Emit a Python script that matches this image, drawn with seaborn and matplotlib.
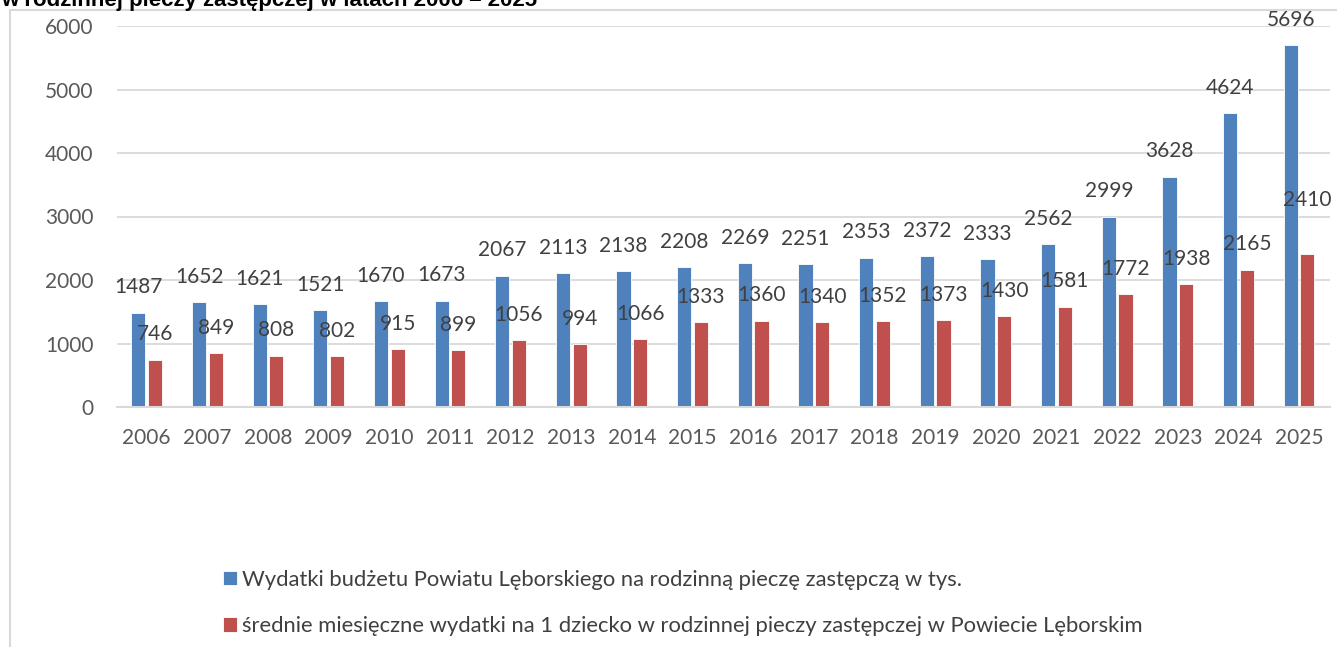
import matplotlib
matplotlib.use("Agg")
import matplotlib.pyplot as plt
from matplotlib.patches import Rectangle
import seaborn as sns
import pandas as pd

years = [str(y) for y in range(2006, 2026)]
budget = [1487, 1652, 1621, 1521, 1670, 1673, 2067, 2113, 2138, 2208,
          2269, 2251, 2353, 2372, 2333, 2562, 2999, 3628, 4624, 5696]
per_child = [746, 849, 808, 802, 915, 899, 1056, 994, 1066, 1333,
             1360, 1340, 1352, 1373, 1430, 1581, 1772, 1938, 2165, 2410]
series_names = [
    "Wydatki budżetu Powiatu Lęborskiego na rodzinną pieczę zastępczą w tys.",
    "średnie miesięczne wydatki na 1 dziecko w rodzinnej pieczy zastępczej w Powiecie Lęborskim",
]
title_text = "w rodzinnej pieczy zastępczej w latach 2006 – 2025"
colors = ["#4F81BD", "#C0504D"]

df = pd.DataFrame({
    "year": years * 2,
    "value": budget + per_child,
    "series": [series_names[0]] * len(years) + [series_names[1]] * len(years),
})

sns.set_theme(style="white")
plt.rcParams["font.family"] = ["Lato", "DejaVu Sans"]

W, H = 1337, 647
fig = plt.figure(figsize=(W / 100, H / 100), dpi=100)
ax = fig.add_axes([117 / W, 1 - 407 / H, (1330 - 117) / W, (407 - 26) / H])

sns.barplot(data=df, x="year", y="value", hue="series", hue_order=series_names,
            palette=colors, width=0.55, gap=0.15, ax=ax, legend=True,
            edgecolor="#FFFFFF", linewidth=0.6, saturation=1)

ax.set_ylim(0, 6000)
ax.set_xlim(-0.49, 19.51)
ax.set_yticks(range(0, 6001, 1000))
ax.set_xlabel("")
ax.set_ylabel("")
ax.grid(axis="y", color="#D9D9D9", linewidth=1.3)
ax.grid(axis="x", visible=False)
ax.set_axisbelow(True)
for s in ["top", "right", "left"]:
    ax.spines[s].set_visible(False)
ax.spines["bottom"].set_color("#D9D9D9")
ax.spines["bottom"].set_linewidth(1.5)
ax.tick_params(axis="both", length=0, labelsize=15, colors="#595959")
ax.tick_params(axis="y", pad=17)
ax.tick_params(axis="x", pad=15)

value_sets = [budget, per_child]
for ci, cont in enumerate(ax.containers[:2]):
    vals = value_sets[ci]
    for i, patch in enumerate(cont.patches):
        xc = patch.get_x() + patch.get_width() / 2
        top = patch.get_height()
        off = 11
        if ci == 1 and i == len(vals) - 1:
            off = 32
        ax.annotate(str(vals[i]), (xc, top), xytext=(0, off),
                    textcoords="offset points", ha="center", va="bottom",
                    fontsize=15, color="#404040")

handles, labels = ax.get_legend_handles_labels()
if ax.legend_:
    ax.legend_.remove()
leg = fig.legend(handles, labels, loc="upper left",
                 bbox_to_anchor=(214 / W, 1 - 561 / H), frameon=False,
                 fontsize=15.8, handlelength=0.64, handleheight=0.64,
                 handletextpad=0.25, labelspacing=1.2, borderaxespad=0)
for t in leg.get_texts():
    t.set_color("#404040")

# chart-area border
fig.patches.append(Rectangle((10 / W, -0.1), 1.2, 1 - 10 / H + 0.1,
                             transform=fig.transFigure, fill=False,
                             edgecolor="#D9D9D9", linewidth=1.5, zorder=0))
fig.text(1 / W, 1 - 6 / H, title_text, ha="left", va="baseline",
         fontsize=16, fontweight="bold", color="#000000",
         family=["Liberation Sans", "DejaVu Sans"])

fig.savefig("out.png", dpi=100)
